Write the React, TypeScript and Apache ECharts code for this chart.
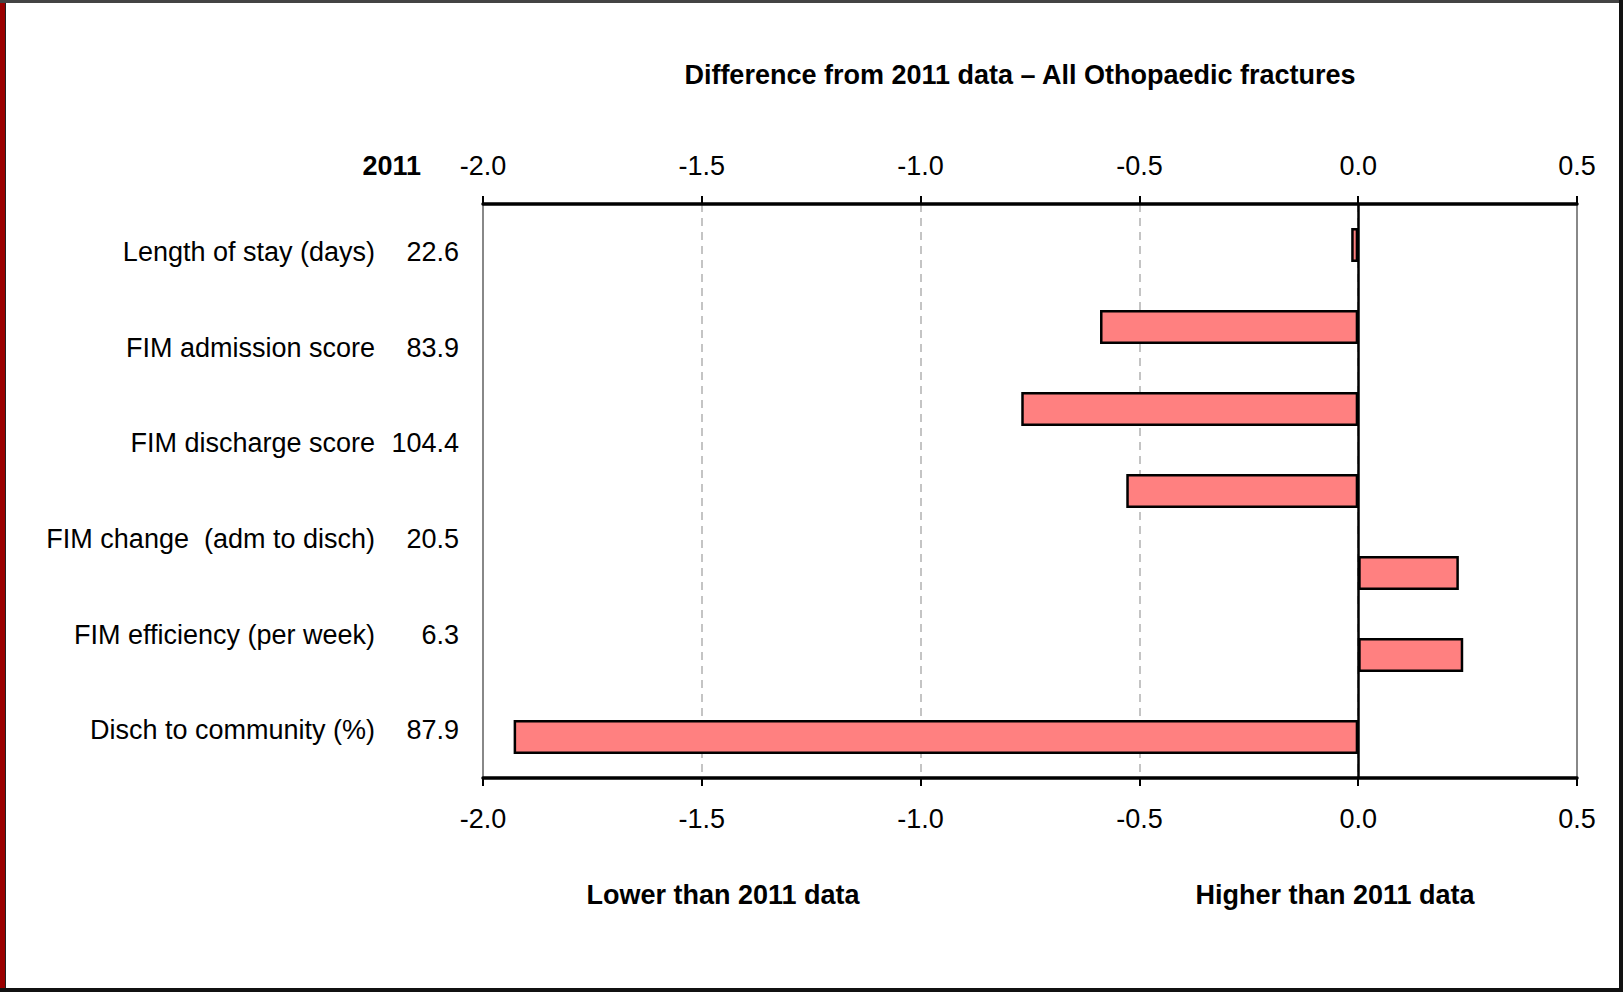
import React, { useEffect, useRef } from "react";
import * as echarts from "echarts";

const barCategories = ["1", "2", "3", "4", "5", "6", "7"];
const barValues = [-0.016, -0.59, -0.77, -0.53, 0.23, 0.24, -1.93];
const labelNames = [
  "Length of stay (days)",
  "FIM admission score",
  "FIM discharge score",
  "FIM change  (adm to disch)",
  "FIM efficiency (per week)",
  "Disch to community (%)",
];
const labelValues = ["22.6", "83.9", "104.4", "20.5", "6.3", "87.9"];
const titleText = "Difference from 2011 data \u2013 All Othopaedic fractures";
const yearText = "2011";
const lowerText = "Lower than 2011 data";
const higherText = "Higher than 2011 data";

const FONT = '"Liberation Sans Narrow", "Arial Narrow", "Liberation Sans", sans-serif';
const FS = 27;

export default function App() {
  const ref = useRef<HTMLDivElement>(null);
  useEffect(() => {
    if (!ref.current) return;
    const chart = echarts.init(ref.current, undefined, { renderer: "svg" });
    const axisCommon = {
      type: "value",
      min: -2,
      max: 0.5,
      interval: 0.5,
      axisLine: { show: true, onZero: false, lineStyle: { color: "#000", width: 3.5 } },
      axisTick: { show: true, length: 8, lineStyle: { color: "#000", width: 2 } },
      axisLabel: {
        fontFamily: FONT,
        fontSize: FS,
        color: "#000",
        formatter: (v: number) => v.toFixed(1),
      },
    };
    const textStyle = (extra: any) => ({
      fontFamily: FONT,
      fontWeight: "bold",
      fontSize: FS,
      fill: "#000",
      verticalAlign: "middle",
      ...extra,
    });
    chart.setOption({
      animation: false,
      backgroundColor: "#fff",
      grid: {
        left: 483,
        right: 46,
        top: 204,
        bottom: 214,
        show: true,
        borderColor: "#888",
        borderWidth: 2,
        backgroundColor: "transparent",
      },
      xAxis: [
        {
          ...axisCommon,
          position: "bottom",
          axisLabel: { ...axisCommon.axisLabel, margin: 27 },
          splitLine: {
            show: true,
            showMinLine: false,
            showMaxLine: false,
            lineStyle: { color: "#c4c4c4", type: [8, 6], width: 2 },
          },
        },
        {
          ...axisCommon,
          position: "top",
          axisLabel: { ...axisCommon.axisLabel, margin: 25 },
          splitLine: { show: false },
        },
      ],
      yAxis: [
        {
          type: "category",
          data: barCategories,
          inverse: true,
          axisLine: { show: true, onZero: true, onZeroAxisIndex: 0, lineStyle: { color: "#000", width: 2.5 } },
          axisTick: { show: false },
          axisLabel: { show: false },
          splitLine: { show: false },
          z: 5,
        },
        {
          type: "category",
          data: labelNames,
          inverse: true,
          position: "left",
          axisLine: { show: false, onZero: false },
          axisTick: { show: false },
          splitLine: { show: false },
          axisLabel: {
            margin: 24,
            formatter: (name: string, idx: number) => `{n|${name}}{v|${labelValues[idx]}}`,
            rich: {
              n: { fontFamily: FONT, fontSize: FS, color: "#000", padding: [0, 4, 0, 0] },
              v: { fontFamily: FONT, fontSize: FS, color: "#000", width: 80, align: "right" },
            },
          },
        },
      ],
      series: [
        {
          type: "bar",
          xAxisIndex: 0,
          yAxisIndex: 0,
          data: barValues,
          barWidth: 34,
          itemStyle: { color: "#FF8080", borderColor: "#000", borderWidth: 2.5 },
          z: 3,
        },
      ],
      graphic: [
        { type: "rect", shape: { x: 0, y: 0, width: 5, height: 992 }, style: { fill: "#9a0000" }, z: 100 },
        { type: "rect", shape: { x: 5, y: 0, width: 1, height: 992 }, style: { fill: "#222" }, z: 100 },
        { type: "rect", shape: { x: 0, y: 0, width: 1623, height: 3 }, style: { fill: "#444" }, z: 100 },
        { type: "rect", shape: { x: 1619, y: 0, width: 4, height: 992 }, style: { fill: "#111" }, z: 100 },
        { type: "rect", shape: { x: 0, y: 988, width: 1623, height: 4 }, style: { fill: "#111" }, z: 100 },
        { type: "text", x: 1020, y: 75, style: textStyle({ text: titleText, align: "center" }) },
        { type: "text", x: 421, y: 166, style: textStyle({ text: yearText, align: "right" }) },
        { type: "text", x: 723, y: 895, style: textStyle({ text: lowerText, align: "center" }) },
        { type: "text", x: 1335, y: 895, style: textStyle({ text: higherText, align: "center" }) },
      ],
    });
    return () => chart.dispose();
  }, []);
  return (
    <div
      ref={ref}
      style={{ position: "fixed", left: 0, top: 0, width: 1623, height: 992, background: "#fff" }}
    />
  );
}
